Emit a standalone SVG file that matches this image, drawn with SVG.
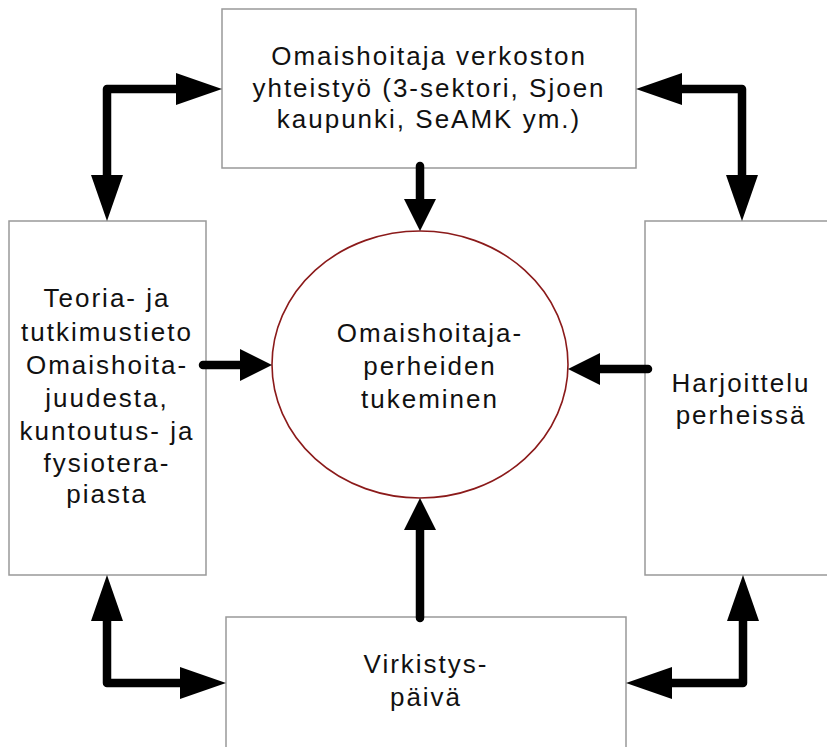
<svg xmlns="http://www.w3.org/2000/svg" width="827" height="747" viewBox="0 0 827 747">
<style>
.box{fill:#fff;stroke:#999;stroke-width:1.5}
.t{font-family:"Liberation Sans",Arial,sans-serif;font-size:26px;letter-spacing:2px;fill:#111;text-anchor:middle}
.c{fill:none;stroke:#000;stroke-width:8.5;stroke-linecap:round;stroke-linejoin:round}
.lng{marker-start:url(#hl);marker-end:url(#hl)}
.sh{marker-end:url(#hs)}
</style>
<defs>
<marker id="hl" markerUnits="userSpaceOnUse" viewBox="0 -16 46 32" markerWidth="46" markerHeight="32" refX="0" refY="0" orient="auto-start-reverse">
<path d="M0,-16 L46,0 L0,16 z" fill="#000"/>
</marker>
<marker id="hs" markerUnits="userSpaceOnUse" viewBox="0 -16 32 32" markerWidth="32" markerHeight="32" refX="0" refY="0" orient="auto">
<path d="M0,-16 L32,0 L0,16 z" fill="#000"/>
</marker>
</defs>
<rect width="827" height="747" fill="#fff"/>
<g id="top">
<rect class="box" x="222" y="9" width="414" height="159"/>
<text class="t" x="429" y="65">Omaishoitaja verkoston</text>
<text class="t" x="429" y="97">yhteistyö (3-sektori, Sjoen</text>
<text class="t" x="429" y="128">kaupunki, SeAMK ym.)</text>
</g>
<g id="left">
<rect class="box" x="9" y="221" width="197" height="354"/>
<text class="t" x="107" y="307">Teoria- ja</text>
<text class="t" x="107" y="341">tutkimustieto</text>
<text class="t" x="107" y="374">Omaishoita-</text>
<text class="t" x="107" y="407">juudesta,</text>
<text class="t" x="107" y="440">kuntoutus- ja</text>
<text class="t" x="107" y="472">fysiotera-</text>
<text class="t" x="107" y="503">piasta</text>
</g>
<g id="right">
<rect class="box" x="645" y="221" width="190" height="354"/>
<text class="t" x="741" y="392">Harjoittelu</text>
<text class="t" x="741" y="424">perheissä</text>
</g>
<g id="bottom">
<rect class="box" x="226" y="617" width="400" height="140"/>
<text class="t" x="426" y="673">Virkistys-</text>
<text class="t" x="426" y="706">päivä</text>
</g>
<g id="center">
<ellipse cx="420" cy="364.5" rx="148" ry="133.5" fill="#fff" stroke="#8b1a1a" stroke-width="1.6"/>
<text class="t" x="430" y="342">Omaishoitaja-</text>
<text class="t" x="430" y="375">perheiden</text>
<text class="t" x="430" y="408">tukeminen</text>
</g>
<g id="connectors">
<path class="c lng" d="M107,175 V89 H176"/>
<path class="c lng" d="M742,175 V89 H682"/>
<path class="c lng" d="M107,621 V683 H180"/>
<path class="c lng" d="M743,621 V683 H672"/>
<path class="c sh" d="M420,166 V199"/>
<path class="c sh" d="M203,365 H240"/>
<path class="c sh" d="M648,369 H600"/>
<path class="c sh" d="M420,618 V530"/>
</g>
</svg>
